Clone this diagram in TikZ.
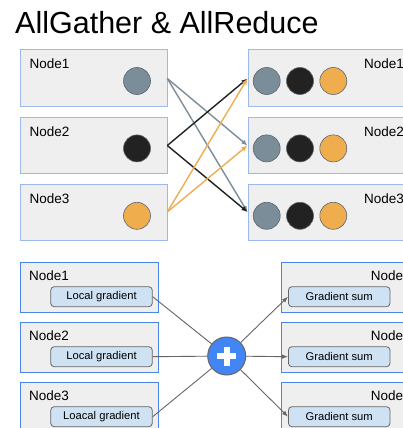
\documentclass[tikz,border=0pt]{standalone}
\usepackage{fontspec}
\setmainfont{Liberation Sans}
\usetikzlibrary{arrows.meta}

\definecolor{boxgray}{HTML}{EFEFEF}
\definecolor{paleedge}{HTML}{9DB9EB}
\definecolor{blueedge}{HTML}{4A86E8}
\definecolor{slate}{HTML}{7B8D99}
\definecolor{ink}{HTML}{222222}
\definecolor{amber}{HTML}{F0AD4E}
\definecolor{dotedge}{HTML}{5A6670}
\definecolor{tagfill}{HTML}{CFE2F3}
\definecolor{wire}{HTML}{666666}
\definecolor{sumblue}{HTML}{4285F4}

\tikzset{
  gbox/.style={rectangle, anchor=north west, inner sep=0pt, fill=boxgray, line width=0.8pt},
  topbox/.style={gbox, draw=paleedge, minimum width=147pt, minimum height=56pt},
  lowbox/.style={gbox, draw=blueedge, minimum width=138.2pt, minimum height=50pt},
  lbl/.style={anchor=base west, inner sep=0pt, font=\fontsize{13.5}{15}\selectfont},
  dot/.style={circle, inner sep=0pt, minimum size=27pt, draw=dotedge, line width=0.6pt},
  tag/.style={rectangle, rounded corners=3.5pt, draw=wire, fill=tagfill, line width=0.8pt,
    inner sep=0pt, minimum width=101.6pt, minimum height=20pt, font=\fontsize{11.2}{13}\selectfont},
  flow/.style={line width=1.4pt, -{Latex[length=6pt,width=5pt]}},
  wireln/.style={draw=wire, line width=0.9pt},
}

\begin{document}
\begin{tikzpicture}[x=1pt, y=-1pt]
\useasboundingbox (0,0) rectangle (403,428);
\clip (0,0) rectangle (403,428);
\fill[white] (0,0) rectangle (403,428);

% title
\node[anchor=base west, inner sep=0pt, font=\fontsize{30.5}{34}\selectfont] (title) at (15,33.3) {AllGather \& AllReduce};

% ---------- AllGather: source nodes ----------
\node[topbox] (L1) at (19.5,49.5) {};
\node[topbox] (L2) at (19.5,116.9) {};
\node[topbox] (L3) at (19.5,184.3) {};
\node[lbl] (L1t) at (29.5,69) {Node1};
\node[lbl] (L2t) at (29.5,136.4) {Node2};
\node[lbl] (L3t) at (29.5,203.8) {Node3};
\node[dot, fill=slate] (L1a) at (137,81) {};
\node[dot, fill=ink]   (L2a) at (137,148.4) {};
\node[dot, fill=amber] (L3a) at (137,215.8) {};

% ---------- AllGather: gathered nodes ----------
\foreach \i/\y in {1/49.5, 2/116.9, 3/184.3} {
  \node[topbox, minimum width=170pt] (R\i) at (247.5,\y) {};
  \node[lbl] (R\i t) at (364,\y+19.5) {Node\i};
  \node[dot, fill=slate] (R\i a) at (266.7,\y+31.5) {};
  \node[dot, fill=ink]   (R\i b) at (300,\y+31.5) {};
  \node[dot, fill=amber] (R\i c) at (333.3,\y+31.5) {};
}

% gather arrows
\draw[flow, slate] (L1.east |- 0,78.5) -- (R2.west |- 0,145.5);
\draw[flow, slate] (L1.east |- 0,78.5) -- (R3.west |- 0,212);
\draw[flow, ink]   (L2.east |- 0,145.5) -- (R1.west |- 0,78.5);
\draw[flow, ink]   (L2.east |- 0,145.5) -- (R3.west |- 0,212);
\draw[flow, amber] (L3.east |- 0,212) -- (R1.west |- 0,78.5);
\draw[flow, amber] (L3.east |- 0,212) -- (R2.west |- 0,145.5);

% ---------- AllReduce ----------
\foreach \i/\y in {1/261.7, 2/321.7, 3/381.7} {
  \node[lowbox] (P\i) at (19.5,\y) {};
  \node[lbl] (P\i t) at (29,\y+18.5) {Node\i};
  \node[lowbox, minimum width=140pt] (Q\i) at (281,\y) {};
  \node[lbl] (Q\i t) at (370.7,\y+18.5) {Node\i};
}
\node[tag] (G1) at (101.5,296.7) {Local gradient};
\node[tag] (G2) at (101.5,356.7) {Local gradient};
\node[tag] (G3) at (101.5,416.7) {Loacal gradient};
\node[tag] (H1) at (339.2,296.7) {Gradient sum};
\node[tag] (H2) at (339.2,356.7) {Gradient sum};
\node[tag] (H3) at (339.2,416.7) {Gradient sum};

% summation node
\node[circle, inner sep=0pt, minimum size=38pt, fill=sumblue, draw=wire, line width=1pt] (S) at (226.7,356) {};
\draw[white, line width=6pt] ([xshift=-9.5pt]S.center) -- ([xshift=9.5pt]S.center);
\draw[white, line width=6pt] ([yshift=-9.5pt]S.center) -- ([yshift=9.5pt]S.center);

% reduce and broadcast wires
\draw[wireln] (G1.east) -- (S);
\draw[wireln] (G2.east) -- (S);
\draw[wireln] (G3.east) -- (S);
\draw[wireln, -{Latex[length=6pt,width=4.5pt]}] (S) -- (H1.west);
\draw[wireln, -{Latex[length=6pt,width=4.5pt]}] (S) -- (H2.west);
\draw[wireln, -{Latex[length=6pt,width=4.5pt]}] (S) -- (H3.west);
\end{tikzpicture}
\end{document}
